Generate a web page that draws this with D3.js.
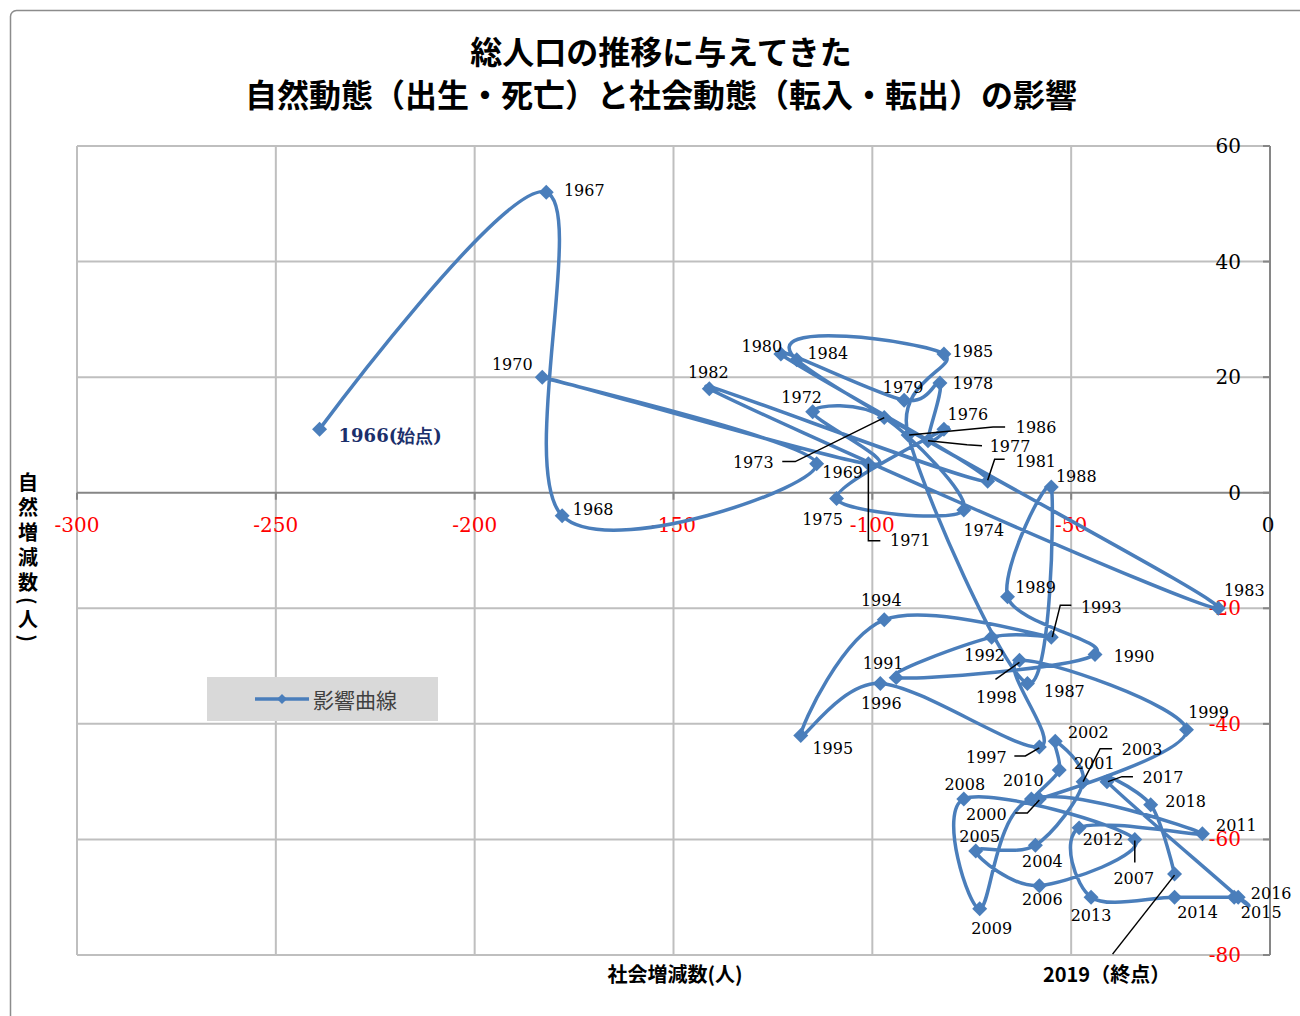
<!DOCTYPE html>
<html>
<head>
<meta charset="utf-8">
<script src="https://cdn.jsdelivr.net/npm/d3@7"></script>
<style>
  html, body { margin: 0; padding: 0; background: #fff; }
  svg { display: block; }
</style>
</head>
<body>
<svg id="chart" width="1300" height="1016"></svg>
<script>
// ---- data -------------------------------------------------------------
const years = [1966,1967,1968,1969,1970,1971,1972,1973,1974,1975,1976,1977,1978,1979,
  1980,1981,1982,1983,1984,1985,1986,1987,1988,1989,1990,1991,1992,1993,1994,1995,
  1996,1997,1998,1999,2000,2001,2002,2003,2004,2005,2006,2007,2008,2009,2010,2011,
  2012,2013,2014,2015,2016,2017,2018,2019];

// 社会増減数 (転入 − 転出)
const socialChange = [-239,-182,-178,-114,-183,-101,-115,-97,-77,-109,-82,-86,-83,-92,
  -123,-71,-141,-13,-119,-82,-91,-61,-55,-66,-44,-94,-70,-55,-97,-118,
  -98,-58,-63,-21,-58,-53,-54,-47,-59,-74,-58,-34,-77,-73,-60,-17,
  -48,-45,-24,-9,-8,-41,-30,-24];

// 自然増減数 (出生 − 死亡)
const naturalChange = [11,52,-4,5,20,5,14,13,-3,-1,11,9,19,16,
  24,2,18,-20,23,24,10,-33,1,-18,-28,-32,-25,-25,-22,-42,
  -33,-44,-29,-41,-53,-48,-43,-50,-61,-62,-68,-60,-53,-72,-53,-59,
  -58,-70,-70,-70,-70,-50,-54,-66];

const xTicks = [-300,-250,-200,-150,-100,-50,0];
const yTicks = [-80,-60,-40,-20,0,20,40,60];

const titleLines = ["総人口の推移に与えてきた",
                    "自然動態（出生・死亡）と社会動態（転入・転出）の影響"];
const xAxisTitle = "社会増減数(人)";
const yAxisTitle = "自然増減数(人)";
const seriesName = "影響曲線";
const startLabel = "1966(始点)";
const endLabel = "2019（終点）";

// ---- label placement (pixel offsets from each marker) -------------------
// [dx, dy] to label centre; optional leader polyline in the same offsets
const labelLayout = {
  1967:[38,-2], 1968:[31,-6], 1969:[26,9], 1970:[-30,-13],
  1971:[42,77,[[0,0],[0,77],[12,77]]],
  1972:[-11,-14],
  1973:[-131,45,[[0,0],[-89,44],[-102,44]]],
  1974:[20,20], 1975:[-14,21], 1976:[24,-15],
  1977:[82,6,[[0,0],[39,4],[54,5]]],
  1978:[33,1], 1979:[-1,-13], 1980:[-19,-8],
  1981:[48,-20,[[0,-1],[7,-22],[17,-22]]],
  1982:[-1,-16], 1983:[26,-18], 1984:[31,-6], 1985:[29,-3],
  1986:[128,-7,[[1,0],[85,-8],[97,-8]]],
  1987:[37,8], 1988:[25,-10], 1989:[28,-9], 1990:[39,2], 1991:[-13,-14], 1992:[-7,18],
  1993:[50,-30,[[1,0],[9,-32],[20,-32]]],
  1994:[-3,-19], 1995:[32,13], 1996:[1,20],
  1997:[-53,11,[[0,1],[-14,9],[-25,9]]],
  1998:[-23,37,[[0,2],[-24,19]]],
  1999:[22,-17],
  2000:[-53,16,[[0,1],[-12,14],[-24,14]]],
  2001:[35,-7], 2002:[33,-9],
  2003:[59,-32,[[0,0],[17,-33],[29,-33]]],
  2004:[7,16], 2005:[4,-14], 2006:[3,14],
  2007:[-1,39,[[0,1],[0,23]]],
  2008:[1,-14], 2009:[12,20], 2010:[-8,-18], 2011:[34,-8], 2012:[24,12],
  2013:[0,18], 2014:[23,15], 2015:[27,15], 2016:[33,-4],
  2017:[56,-4,[[1,0],[15,-5],[26,-5]]],
  2018:[35,-3]
};

// ---- chart ----------------------------------------------------------------
const svg = d3.select("#chart");
const W = 1300, H = 1016;
const plot = { left: 77, right: 1270, top: 146, bottom: 955 };

const x = d3.scaleLinear().domain([-300, 0]).range([plot.left, plot.right]);
const y = d3.scaleLinear().domain([-80, 60]).range([plot.bottom, plot.top]);

const blue = "#4a7ebb";
const serif = "'DejaVu Serif', 'Liberation Serif', serif";
const gothic = "'Noto Sans CJK JP', 'Noto Sans', sans-serif";

// chart frame
svg.append("rect")
  .attr("x", 10.5).attr("y", 10.5)
  .attr("width", W).attr("height", H)
  .attr("rx", 6)
  .attr("fill", "#fff").attr("stroke", "#8c8c8c").attr("stroke-width", 1.5);

// title
svg.append("g").selectAll("text").data(titleLines).join("text")
  .attr("x", 661).attr("y", (d, i) => 50 + i * 43)
  .attr("text-anchor", "middle").attr("dominant-baseline", "central")
  .attr("font-family", gothic).attr("font-weight", 700).attr("font-size", 32)
  .attr("fill", "#000")
  .text(d => d);

// gridlines
const grid = svg.append("g").attr("stroke", "#bfbfbf").attr("stroke-width", 2);
grid.selectAll(".vx").data(xTicks.filter(t => t !== 0)).join("line")
  .attr("x1", d => x(d)).attr("x2", d => x(d))
  .attr("y1", plot.top).attr("y2", plot.bottom);
grid.selectAll(".hy").data(yTicks.filter(t => t !== 0)).join("line")
  .attr("x1", plot.left).attr("x2", plot.right)
  .attr("y1", d => y(d)).attr("y2", d => y(d));

// axes crossing at 0
const axisColor = "#868686";
const axes = svg.append("g").attr("stroke", axisColor).attr("stroke-width", 2);
axes.append("line").attr("x1", plot.left).attr("x2", plot.right)
  .attr("y1", y(0)).attr("y2", y(0));
axes.append("line").attr("x1", x(0)).attr("x2", x(0))
  .attr("y1", plot.top).attr("y2", plot.bottom);
axes.selectAll(".xt").data(xTicks).join("line")
  .attr("x1", d => x(d)).attr("x2", d => x(d))
  .attr("y1", y(0)).attr("y2", y(0) + 7);
axes.selectAll(".yt").data(yTicks).join("line")
  .attr("x1", x(0) - 7).attr("x2", x(0))
  .attr("y1", d => y(d)).attr("y2", d => y(d));

// tick labels (plain hyphen for negatives)
const tickColor = v => v < 0 ? "#ff0000" : "#000";
svg.append("g").selectAll("text").data(xTicks).join("text")
  .attr("x", d => x(d) + (d === 0 ? -2 : 0)).attr("y", y(0) + 32)
  .attr("text-anchor", "middle").attr("dominant-baseline", "central")
  .attr("font-family", serif).attr("font-size", 20)
  .attr("fill", tickColor)
  .text(d => String(d));
svg.append("g").selectAll("text").data(yTicks).join("text")
  .attr("x", x(0) - 29).attr("y", d => y(d))
  .attr("text-anchor", "end").attr("dominant-baseline", "central")
  .attr("font-family", serif).attr("font-size", 20)
  .attr("fill", tickColor)
  .text(d => String(d));

// axis titles
svg.append("text")
  .attr("x", 675).attr("y", 973)
  .attr("text-anchor", "middle").attr("dominant-baseline", "central")
  .attr("font-family", gothic).attr("font-weight", 700).attr("font-size", 20)
  .text(xAxisTitle);

svg.append("text")
  .attr("x", 28).attr("y", 472)
  .style("writing-mode", "vertical-rl")
  .attr("font-family", gothic).attr("font-weight", 700).attr("font-size", 20)
  .attr("letter-spacing", 5)
  .attr("fill", "#000")
  .text(yAxisTitle);

// series
const points = years.map((yr, i) => ({ year: yr, sx: socialChange[i], nz: naturalChange[i] }));

const line = d3.line()
  .x(d => x(d.sx)).y(d => y(d.nz))
  .curve(d3.curveCardinal.tension(0));

svg.append("path")
  .datum(points)
  .attr("d", line)
  .attr("fill", "none").attr("stroke", blue)
  .attr("stroke-width", 3.5).attr("stroke-linejoin", "round");

const diamond = d3.symbol(d3.symbolSquare, 112);
svg.append("g").selectAll("path").data(points).join("path")
  .attr("transform", d => `translate(${x(d.sx)},${y(d.nz)}) rotate(45)`)
  .attr("d", diamond)
  .attr("fill", blue);

// leader lines
const leaders = svg.append("g").attr("fill", "none").attr("stroke", "#000").attr("stroke-width", 1.5);
points.forEach(p => {
  const lay = labelLayout[p.year];
  if (lay && lay[2]) {
    leaders.append("polyline")
      .attr("points", lay[2].map(o => [x(p.sx) + o[0], y(p.nz) + o[1]].join(",")).join(" "));
  }
});

// year labels
svg.append("g").selectAll("text")
  .data(points.filter(p => labelLayout[p.year]))
  .join("text")
  .attr("x", p => x(p.sx) + labelLayout[p.year][0])
  .attr("y", p => y(p.nz) + labelLayout[p.year][1])
  .attr("text-anchor", "middle").attr("dominant-baseline", "central")
  .attr("font-family", serif).attr("font-size", 16).attr("fill", "#000")
  .text(p => p.year);

// start and end labels
const first = points[0], last = points[points.length - 1];
svg.append("text")
  .attr("x", x(first.sx) + 19).attr("y", y(first.nz) + 6)
  .attr("dominant-baseline", "central")
  .attr("font-family", serif).attr("font-weight", 700).attr("font-size", 18)
  .attr("fill", "#1b2f6b")
  .text(startLabel);

leaders.append("line")
  .attr("x1", x(last.sx)).attr("y1", y(last.nz) + 1)
  .attr("x2", x(last.sx) - 62).attr("y2", y(last.nz) + 80);
svg.append("text")
  .attr("x", x(last.sx) - 68).attr("y", 973)
  .attr("text-anchor", "middle").attr("dominant-baseline", "central")
  .attr("font-family", gothic).attr("font-weight", 700).attr("font-size", 20)
  .attr("fill", "#000")
  .text(endLabel);

// legend
const legend = svg.append("g");
legend.append("rect").attr("x", 207).attr("y", 677).attr("width", 231).attr("height", 44)
  .attr("fill", "#d9d9d9");
legend.append("line").attr("x1", 255).attr("x2", 309).attr("y1", 699).attr("y2", 699)
  .attr("stroke", blue).attr("stroke-width", 3.5);
legend.append("path").attr("transform", "translate(282,699) rotate(45)")
  .attr("d", d3.symbol(d3.symbolSquare, 50)).attr("fill", blue);
legend.append("text").attr("x", 313).attr("y", 699)
  .attr("dominant-baseline", "central")
  .attr("font-family", gothic).attr("font-size", 21).attr("fill", "#404040")
  .text(seriesName);
</script>
</body>
</html>
